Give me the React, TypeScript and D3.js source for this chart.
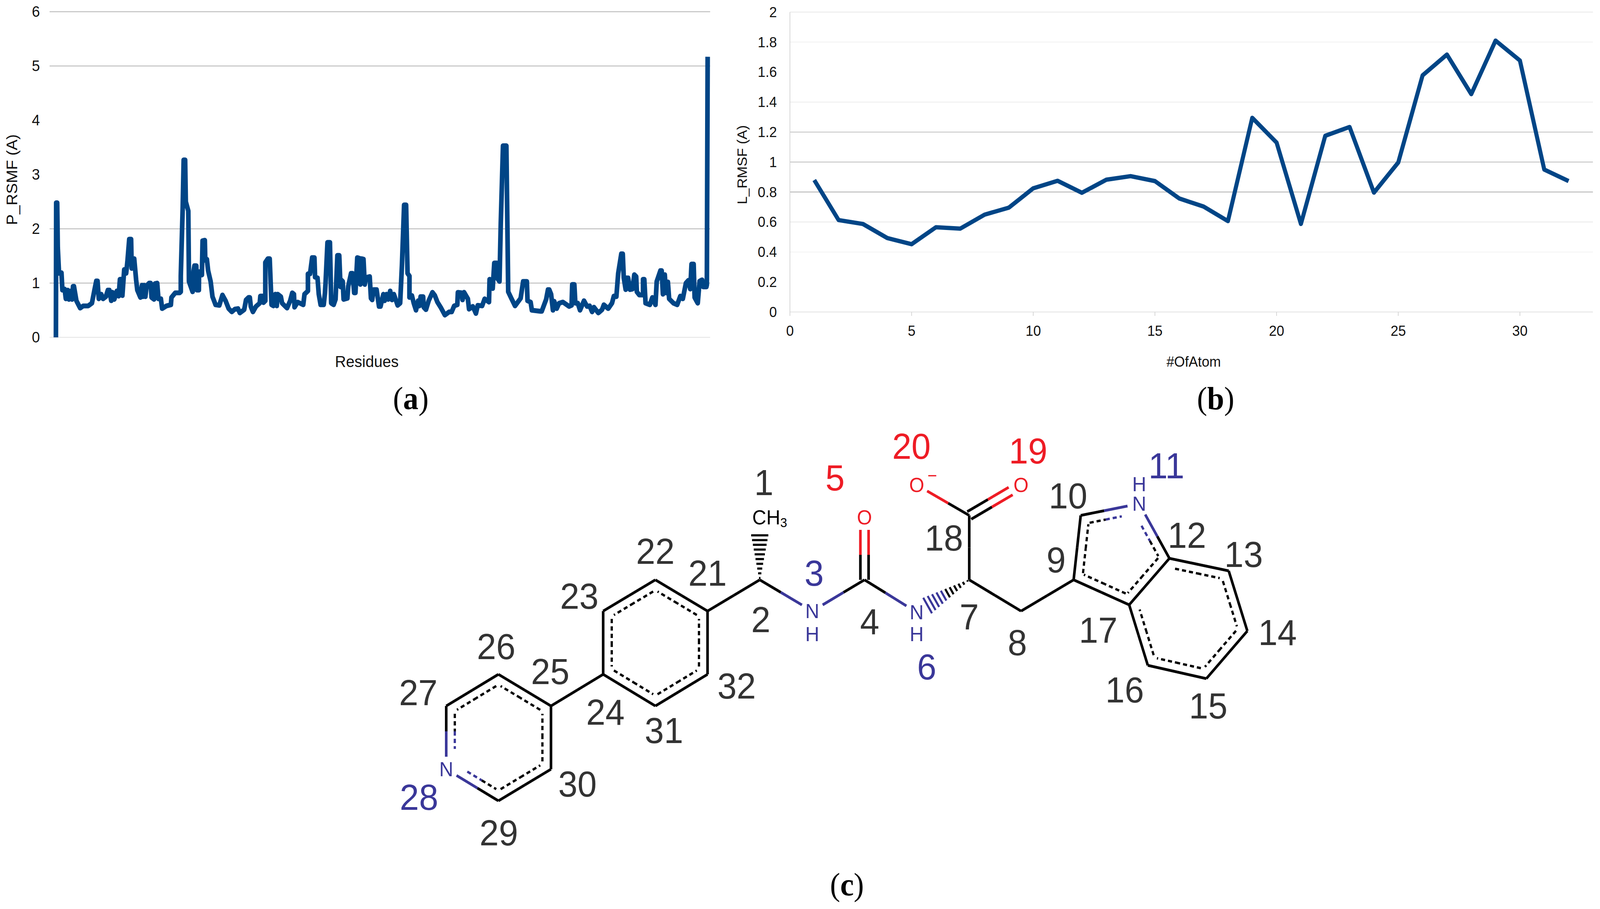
import * as d3 from 'd3';

const WIDTH = 4292;
const HEIGHT = 2328;
const LINE_BLUE = '#004586';
const N_BLUE = '#3a3799';
const O_RED = '#ee1c25';
const FONT = '"Liberation Sans", Arial, sans-serif';
const SERIF = '"Liberation Serif", "Times New Roman", serif';

// panel (a): [residue position, RMSF]
const proteinRmsf: [number, number][] = [
  [9.6, 0], [10, 2.48], [11.5, 2.48], [12.4, 1.66], [14.3, 1.18], [18, 1.19], [19.4, 0.87], [22.8, 0.89], [24.6, 0.71],
  [27.5, 0.87], [29.3, 0.7], [32.2, 0.855], [34, 0.7], [35.5, 0.94], [36.9, 0.94], [40.6, 0.675], [46.3, 0.54], [51, 0.58],
  [58.5, 0.58], [64.1, 0.63], [67.9, 0.87], [70.7, 1.04], [72.6, 1.04], [74.5, 0.71], [78.2, 0.795], [81, 0.71],
  [85.2, 0.75], [88.2, 0.87], [90.5, 0.87], [93.3, 0.675], [95.2, 0.83], [98, 0.7], [101.8, 0.855], [104.6, 0.76],
  [106.5, 1.07], [108.3, 1.07], [110.2, 0.77], [113, 1.25], [115.9, 1.18], [117.8, 1.39], [120.6, 1.81], [123.4, 1.81],
  [124.3, 1.27], [128.1, 1.45], [131, 1.06], [132.8, 0.87], [137.5, 0.735], [139.8, 0.96], [141.3, 0.75], [143.1, 0.96],
  [145, 0.75], [146.9, 0.95], [150.7, 1], [153, 1], [154.4, 0.735], [158.2, 0.7], [159.7, 0.99], [162.9, 1], [164.8, 0.71],
  [168.5, 0.71], [170.4, 0.53], [177, 0.58], [183.6, 0.6], [184.5, 0.735], [190.2, 0.82], [196.8, 0.82], [198.6, 0.84],
  [198.6, 1.13], [201.5, 2.38], [203, 3.27], [205.2, 3.27], [206.2, 2.5], [210, 2.33], [211, 1.03], [216.5, 0.84],
  [217.4, 1.18], [219.3, 1.32], [222.1, 1.32], [223, 0.87], [226, 0.87], [226.3, 1.21], [230.6, 1.15], [231.6, 1.78],
  [235, 1.79], [235.7, 1.42], [238.1, 1.44], [240, 1.23], [243.8, 1.03], [246.6, 0.75], [251.3, 0.6], [257, 0.59],
  [261.7, 0.78], [266.4, 0.675], [271.1, 0.53], [275.8, 0.47], [280.5, 0.52], [285.2, 0.53], [288, 0.45], [294.6, 0.51],
  [297.4, 0.69], [301.2, 0.735], [303.1, 0.735], [304.6, 0.57], [307.8, 0.47], [312.5, 0.57], [318.1, 0.63], [319.1, 0.76],
  [322, 0.76], [323.8, 0.64], [326.6, 0.675], [326.6, 1.38], [330.4, 1.45], [333.2, 1.45], [336, 0.6], [338.8, 0.58],
  [341.6, 0.795], [343.9, 0.58], [345.4, 0.795], [350.1, 0.75], [352, 0.63], [359.5, 0.54], [364.2, 0.675], [367.4, 0.82],
  [369.9, 0.795], [370.8, 0.555], [375.5, 0.65], [384, 0.6], [385.9, 0.795], [391.1, 0.855], [391.1, 1.17], [394.3, 1.17],
  [397.5, 1.47], [400.9, 1.47], [401.9, 1.11], [405.6, 1.095], [407.5, 0.795], [410.3, 0.6], [415, 0.6], [416.9, 0.82],
  [417.8, 1], [420.7, 1.75], [424.4, 1.75], [426.3, 0.63], [430, 0.6], [432.9, 0.7], [435.7, 1.51], [438.5, 1.51],
  [440.4, 0.93], [441.4, 1.06], [443.8, 1.03], [445.1, 0.7], [450.8, 0.72], [452.1, 0.94], [456.4, 1.18], [458.7, 1.18],
  [461.1, 0.82], [463, 0.82], [465.8, 1.47], [470.5, 1.45], [470.5, 0.975], [472.4, 1.45], [475.2, 1.44], [477.1, 0.975],
  [479, 1.1], [484.6, 1.12], [486.5, 0.72], [488.4, 0.69], [490.3, 0.88], [495, 0.88], [498.7, 0.57], [501, 0.57],
  [505.3, 0.795], [507.2, 0.675], [510, 0.795], [512.8, 0.7], [515.6, 0.855], [518.4, 0.69], [521.2, 0.795], [526.9, 0.59],
  [530.7, 0.63], [533.5, 1.35], [536.7, 2.44], [539.7, 2.44], [541.9, 1.18], [544.8, 1.13], [544.8, 0.735], [548.5, 0.77],
  [551.3, 0.63], [554.7, 0.5], [557.9, 0.675], [559.8, 0.58], [561.7, 0.75], [565.5, 0.75], [566.4, 0.555], [569.8, 0.51],
  [573.9, 0.675], [579.6, 0.83], [583.3, 0.77], [587.1, 0.65], [592.7, 0.54], [598.4, 0.41], [605, 0.47], [608.7, 0.47],
  [612.5, 0.58], [617.2, 0.6], [618.1, 0.83], [623.8, 0.82], [625.1, 0.69], [627.5, 0.83], [633.2, 0.71], [635, 0.52],
  [640.7, 0.57], [645.4, 0.44], [648.2, 0.59], [654.8, 0.58], [658.6, 0.71], [665.2, 0.65], [666.1, 1.07], [670.8, 0.9],
  [673.2, 1.37], [677, 1.37], [678.3, 1.08], [681.1, 1.03], [683, 2.09], [686.4, 3.53], [691.5, 3.53], [694.3, 0.84],
  [699, 0.72], [704.6, 0.58], [713.1, 0.72], [716.9, 1.03], [722.5, 1.03], [723.5, 0.675], [728.2, 0.65], [730.1, 0.5],
  [743.2, 0.48], [745, 0.48], [751.7, 0.7], [754.5, 0.88], [756.4, 0.88], [759.2, 0.795], [762, 0.5], [763.9, 0.665],
  [767.7, 0.53], [771.4, 0.63], [777.1, 0.65], [786.5, 0.57], [790.2, 0.59], [791.2, 0.975], [794.4, 0.975], [795.9, 0.63],
  [799.6, 0.63], [803, 0.5], [809, 0.675], [813.7, 0.57], [817.5, 0.58], [821.3, 0.47], [824.1, 0.555], [830.7, 0.45],
  [836.3, 0.51], [839.1, 0.6], [845.7, 0.53], [851.4, 0.63], [854.2, 0.76], [858, 0.75], [860.8, 1.18], [865.5, 1.54],
  [867.7, 1.54], [869.2, 1.1], [872.1, 0.88], [873, 1.095], [875.8, 1.095], [878.6, 0.88], [882.4, 0.89], [885.2, 1.155],
  [888, 1.12], [889, 0.84], [892.8, 0.78], [898.4, 0.78], [898.4, 1.07], [900.3, 1.07], [902.2, 0.63], [908.7, 0.6],
  [912.5, 0.735], [917.2, 0.6], [919.1, 1.03], [924.7, 1.23], [926.6, 1.23], [928.5, 0.795], [931.3, 1.155], [933.2, 0.82],
  [936, 1.02], [937.9, 0.71], [944.5, 0.63], [950.1, 0.6], [954.8, 0.76], [958.6, 0.71], [963.3, 1], [967, 1.05],
  [969.9, 0.89], [971.8, 1.35], [975, 1.35], [976.5, 0.735], [981.2, 0.63], [984, 1.035], [987.8, 1.06], [989.6, 0.93],
  [994.3, 0.93], [995, 0.97], [996.2, 5.17],
];
const proteinTicks = [0, 1, 2, 3, 4, 5, 6];
const proteinGrid = [0, 1, 2, 5, 6];

// panel (b)
const atomNumbers = d3.range(1, 33);
const ligandRmsf = [
  0.88, 0.613, 0.587, 0.493, 0.452, 0.565, 0.556, 0.649, 0.696, 0.825, 0.875, 0.795, 0.882, 0.906, 0.873, 0.757,
  0.703, 0.606, 1.295, 1.13, 0.587, 1.175, 1.234, 0.796, 0.997, 1.578, 1.717, 1.453, 1.81, 1.677, 0.95, 0.873,
];
const ligandXTicks = [0, 5, 10, 15, 20, 25, 30];
const ligandYTicks = [0, 0.2, 0.4, 0.6, 0.8, 1, 1.2, 1.4, 1.6, 1.8, 2];
const ligandGrid: [number, string][] = [
  [0, '#e6e6e6'], [0.4, '#f5f5f5'], [0.6, '#ececec'], [0.8, '#bdbdbd'], [1, '#c8c8c8'], [1.2, '#cccccc'],
  [1.4, '#efefef'], [1.8, '#f4f4f4'], [2, '#ececec'],
];

// panel (c): atom number -> position in the structure drawing
const atoms: Record<number, [number, number]> = {
  1: [841, 131], 2: [841, 245], 3: [982, 325], 4: [1122, 245], 5: [1122, 85], 6: [1262, 328], 7: [1403, 245],
  8: [1542, 325], 9: [1683, 245], 10: [1702, 80], 11: [1859, 50], 12: [1940, 190], 13: [2099, 222], 14: [2149, 376],
  15: [2039, 498], 16: [1882, 464], 17: [1832, 309], 18: [1403, 80], 19: [1542, 2], 20: [1262, 2], 21: [701, 325],
  22: [561, 245], 23: [421, 325], 24: [421, 487], 25: [281, 568], 26: [140, 487], 27: [0, 568], 28: [0, 730],
  29: [140, 811], 30: [281, 730], 31: [561, 568], 32: [701, 487],
};
const atomLabels: Record<number, [number, number]> = {
  1: [852, -4], 2: [844, 347], 3: [987, 228], 4: [1136, 352], 5: [1043, -16], 6: [1289, 468], 7: [1403, 340],
  8: [1532, 406], 9: [1636, 194], 10: [1668, 30], 11: [1932, -47], 12: [1987, 131], 13: [2139, 180], 14: [2230, 380],
  15: [2044, 568], 16: [1820, 527], 17: [1749, 374], 18: [1335, 138], 19: [1561, -85], 20: [1248, -97], 21: [701, 228],
  22: [561, 172], 23: [357, 287], 24: [427, 584], 25: [279, 480], 26: [134, 416], 27: [-75, 534], 28: [-73, 802],
  29: [141, 893], 30: [352, 768], 31: [584, 631], 32: [779, 517],
};
const nitrogens = [3, 6, 11, 28];
const oxygens = [5, 19, 20];
const singleBonds = [[2, 3], [3, 4], [4, 6], [7, 8], [8, 9], [7, 18], [18, 20], [2, 21], [24, 25]];
const doubleBonds = [[4, 5], [18, 19]];
const hashBonds = [[2, 1, 10], [7, 6, 11]];
const rings = [
  [21, 22, 23, 24, 31, 32],
  [25, 26, 27, 28, 29, 30],
  [9, 10, 11, 12, 17],
  [12, 13, 14, 15, 16, 17],
];
const hydrogens: [number, number][] = [[3, 59], [6, 56], [11, -50]];

const axisA = { left: 133, right: 1905, top: 30, bottom: 864 };
const axisB = { left: 2119, right: 4273, top: 31, bottom: 799 };

const xA = d3.scaleLinear().domain([0, 1000]).range([axisA.left, axisA.right]);
const yA = d3.scaleLinear().domain([0, 6]).range([axisA.bottom, axisA.top]);
const xB = d3.scaleLinear().domain([0, 33]).range([axisB.left, axisB.right]);
const yB = d3.scaleLinear().domain([0, 2]).range([axisB.bottom, axisB.top]);
const xM = d3.scaleLinear().domain([0, 2149]).range([1197, 3346]);
const yM = d3.scaleLinear().domain([0, 811]).range([1240, 2051]);

const elementColor = (n: number) => (nitrogens.includes(n) ? N_BLUE : oxygens.includes(n) ? O_RED : '#000');
const isHetero = (n: number) => nitrogens.includes(n) || oxygens.includes(n);
const atomPx = (n: number): [number, number] => [xM(atoms[n][0]), yM(atoms[n][1])];

// end points of a bond, pulled back from labelled atoms
const bondEnds = (a: number, b: number, trim = 32, plain = 0) => {
  const [ax, ay] = atomPx(a);
  const [bx, by] = atomPx(b);
  const len = Math.hypot(bx - ax, by - ay);
  const ux = (bx - ax) / len;
  const uy = (by - ay) / len;
  const ta = isHetero(a) ? trim : plain;
  const tb = isHetero(b) ? trim : plain;
  return { x1: ax + ux * ta, y1: ay + uy * ta, x2: bx - ux * tb, y2: by - uy * tb, nx: -uy, ny: ux };
};

const TwoTone = ({ a, b, x1, y1, x2, y2, width, dash }: any) => {
  const mx = (x1 + x2) / 2;
  const my = (y1 + y2) / 2;
  return (
    <g strokeWidth={width} strokeDasharray={dash} fill="none">
      <line x1={x1} y1={y1} x2={mx} y2={my} stroke={elementColor(a)} />
      <line x1={mx} y1={my} x2={x2} y2={y2} stroke={elementColor(b)} />
    </g>
  );
};

const Molecule = () => {
  const solid = 7;
  const shapes: React.ReactNode[] = [];

  singleBonds.forEach(([a, b]) => {
    const e = bondEnds(a, b);
    shapes.push(<TwoTone key={`s${a}-${b}`} a={a} b={b} {...e} width={solid} />);
  });

  doubleBonds.forEach(([a, b]) => {
    const e = bondEnds(a, b);
    [-1, 1].forEach((side) => {
      const off = side * 11;
      shapes.push(
        <TwoTone
          key={`d${a}-${b}${side}`}
          a={a}
          b={b}
          x1={e.x1 + e.nx * off}
          y1={e.y1 + e.ny * off}
          x2={e.x2 + e.nx * off}
          y2={e.y2 + e.ny * off}
          width={solid}
        />,
      );
    });
  });

  rings.forEach((ring, r) => {
    const cx = d3.mean(ring, (n) => atomPx(n)[0]) as number;
    const cy = d3.mean(ring, (n) => atomPx(n)[1]) as number;
    ring.forEach((a, i) => {
      const b = ring[(i + 1) % ring.length];
      // bond shared by the 5 and 6 rings is already drawn with the 5 ring
      if (r === 3 && a === 17) return;
      const outer = bondEnds(a, b);
      const inner = bondEnds(a, b, 52, 20);
      const side = (cx - (outer.x1 + outer.x2) / 2) * outer.nx + (cy - (outer.y1 + outer.y2) / 2) * outer.ny;
      const off = (side > 0 ? 1 : -1) * 23;
      shapes.push(
        <TwoTone
          key={`i${r}-${a}-${b}`}
          a={a}
          b={b}
          x1={inner.x1 + inner.nx * off}
          y1={inner.y1 + inner.ny * off}
          x2={inner.x2 + inner.nx * off}
          y2={inner.y2 + inner.ny * off}
          width={6}
          dash="11 8"
        />,
      );
      shapes.push(<TwoTone key={`o${r}-${a}-${b}`} a={a} b={b} {...outer} width={solid} />);
    });
  });

  hashBonds.forEach(([a, b, count]) => {
    const e = bondEnds(a, b, 34);
    const halfWide = 21;
    d3.range(count).forEach((i) => {
      const t = i / (count - 1);
      const px = e.x1 + (e.x2 - e.x1) * (0.04 + t * 0.96);
      const py = e.y1 + (e.y2 - e.y1) * (0.04 + t * 0.96);
      const w = 2 + t * halfWide;
      shapes.push(
        <line
          key={`h${a}-${i}`}
          x1={px - e.nx * w}
          y1={py - e.ny * w}
          x2={px + e.nx * w}
          y2={py + e.ny * w}
          stroke={t > 0.5 ? elementColor(b) : '#000'}
          strokeWidth={5.5}
        />,
      );
    });
  });

  return (
    <g fontFamily={FONT}>
      {shapes}
      {[...nitrogens, ...oxygens].map((n) => (
        <text
          key={`el${n}`}
          x={atomPx(n)[0]}
          y={atomPx(n)[1]}
          textAnchor="middle"
          dominantBaseline="central"
          fontSize={52}
          fill={nitrogens.includes(n) ? N_BLUE : O_RED}
        >
          {nitrogens.includes(n) ? 'N' : 'O'}
        </text>
      ))}
      {hydrogens.map(([n, dy]) => (
        <text
          key={`H${n}`}
          x={atomPx(n)[0]}
          y={atomPx(n)[1] + dy}
          textAnchor="middle"
          dominantBaseline="central"
          fontSize={52}
          fill={N_BLUE}
        >
          H
        </text>
      ))}
      <text
        x={atomPx(20)[0] + 42}
        y={atomPx(20)[1] - 24}
        fontSize={44}
        fill={O_RED}
        textAnchor="middle"
        dominantBaseline="central"
      >
        −
      </text>
      <text x={atomPx(1)[0] - 20} y={atomPx(1)[1] - 46} fontSize={52} fill="#000" dominantBaseline="central">
        CH
        <tspan fontSize={33} dy={14}>
          3
        </tspan>
      </text>
      {atomNumbers.map((n) => (
        <text
          key={`n${n}`}
          x={xM(atomLabels[n][0])}
          y={yM(atomLabels[n][1])}
          textAnchor="middle"
          dominantBaseline="central"
          fontSize={93}
          fill={nitrogens.includes(n) ? N_BLUE : oxygens.includes(n) ? O_RED : '#333'}
        >
          {n}
        </text>
      ))}
    </g>
  );
};

const PanelLabel = ({ x, y, name }: { x: number; y: number; name: string }) => (
  <text x={x} y={y} textAnchor="middle" fontFamily={SERIF} fontSize={82} fill="#000">
    (<tspan fontWeight="bold">{name}</tspan>)
  </text>
);

const App = () => {
  const lineA = d3
    .line<[number, number]>()
    .x((d) => xA(d[0]))
    .y((d) => yA(d[1]));
  const lineB = d3
    .line<number>()
    .x((_, i) => xB(atomNumbers[i]))
    .y((d) => yB(d));

  // the browser window can be narrower than asked, so fit the drawing to whatever it is
  return (
    <svg
      viewBox={`0 0 ${WIDTH} ${HEIGHT}`}
      preserveAspectRatio="none"
      style={{ position: 'absolute', left: 0, top: 0, width: '100vw', height: '100vh', background: '#fff' }}
    >
      {/* panel a */}
      <g fontFamily={FONT} fill="#111">
        {proteinGrid.map((v) => (
          <line
            key={v}
            x1={axisA.left}
            x2={axisA.right}
            y1={yA(v)}
            y2={yA(v)}
            stroke={v === 0 ? '#e8e8e8' : '#c0c0c0'}
            strokeWidth={2.5}
          />
        ))}
        {proteinTicks.map((v) => (
          <text key={v} x={107} y={yA(v)} textAnchor="end" dominantBaseline="central" fontSize={39}>
            {v}
          </text>
        ))}
        <text transform="translate(46,460) rotate(-90)" textAnchor="middle" fontSize={41}>
          P_RSMF (A)
        </text>
        <text x={984} y={940} textAnchor="middle" fontSize={41}>
          Residues
        </text>
        <path d={lineA(proteinRmsf) ?? ''} fill="none" stroke={LINE_BLUE} strokeWidth={12.5} strokeLinejoin="round" />
      </g>
      <PanelLabel x={1102} y={1048} name="a" />

      {/* panel b */}
      <g fontFamily={FONT} fill="#111">
        {ligandGrid.map(([v, colour]) => (
          <line key={v} x1={axisB.left} x2={axisB.right} y1={yB(v)} y2={yB(v)} stroke={colour} strokeWidth={2.5} />
        ))}
        <line x1={axisB.left} x2={axisB.left} y1={axisB.top} y2={axisB.bottom} stroke="#d4d4d4" strokeWidth={2} />
        {ligandXTicks.map((v) => (
          <g key={v}>
            <line x1={xB(v)} x2={xB(v)} y1={axisB.bottom} y2={axisB.bottom + 10} stroke="#d4d4d4" strokeWidth={2} />
            <text x={xB(v)} y={847} textAnchor="middle" dominantBaseline="central" fontSize={37}>
              {v}
            </text>
          </g>
        ))}
        {ligandYTicks.map((v) => (
          <text key={v} x={2084} y={yB(v)} textAnchor="end" dominantBaseline="central" fontSize={37}>
            {v}
          </text>
        ))}
        <text transform="translate(2004,422) rotate(-90)" textAnchor="middle" fontSize={36.5}>
          L_RMSF (A)
        </text>
        <text x={3202} y={939} textAnchor="middle" fontSize={37}>
          #OfAtom
        </text>
        <path d={lineB(ligandRmsf) ?? ''} fill="none" stroke={LINE_BLUE} strokeWidth={11} strokeLinejoin="round" />
      </g>
      <PanelLabel x={3261} y={1048} name="b" />

      {/* panel c */}
      <Molecule />
      <PanelLabel x={2272} y={2293} name="c" />
    </svg>
  );
};

export default App;
